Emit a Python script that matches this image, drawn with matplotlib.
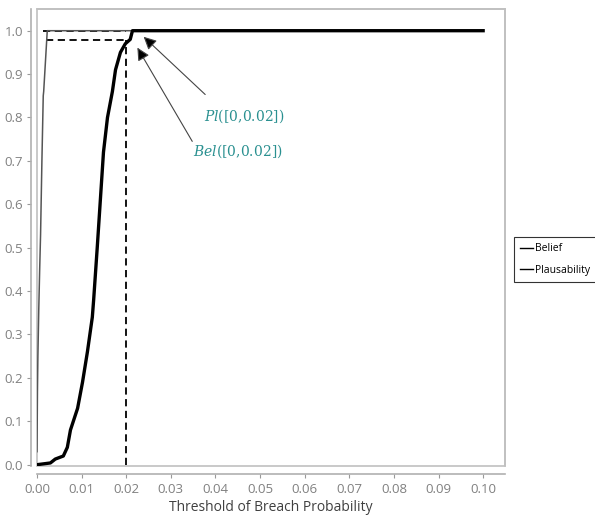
import matplotlib.pyplot as plt
import numpy as np

plt.rcParams['font.family'] = ['Open Sans', 'DejaVu Sans']
plt.rcParams['mathtext.fontset'] = 'dejavuserif'

# Belief curve (thick black)
bel_x = [0.0, 0.0030, 0.0041, 0.0059, 0.0068, 0.0075, 0.0091, 0.0102, 0.0113,
         0.0124, 0.0127, 0.0135, 0.0142, 0.0149, 0.0158, 0.0169, 0.0176, 0.0187,
         0.0198, 0.0209, 0.0214, 0.1]
bel_y = [0.0, 0.004, 0.013, 0.02, 0.04, 0.08, 0.13, 0.19, 0.26,
         0.34, 0.38, 0.50, 0.61, 0.72, 0.80, 0.86, 0.91, 0.95,
         0.97, 0.98, 1.0, 1.0]

# Plausibility curve (thin gray)
pl_x = [0.0, 0.0001, 0.0002, 0.0004, 0.0006, 0.0008, 0.0011, 0.0014, 0.0015, 0.0023, 0.1]
pl_y = [0.03, 0.17, 0.25, 0.36, 0.45, 0.53, 0.70, 0.85, 0.86, 1.0, 1.0]

# reference lines at threshold 0.02
thr = 0.02
bel_thr = 0.978
pl_thr = 1.0

xticks = np.arange(0, 0.101, 0.01)
yticks = np.arange(0, 1.01, 0.1)

fig = plt.figure(figsize=(5.95, 5.17), dpi=100)
ax = fig.add_axes([37 / 595, 51 / 517, 468 / 595, 457 / 517])

ax.plot(pl_x, pl_y, color='#555555', lw=1.1, label='Plausability', zorder=3)
ax.plot(bel_x, bel_y, color='black', lw=2.4, label='Belief', zorder=4)

# dashed guides
ax.plot([0.0014, thr], [pl_thr, pl_thr], color='black', lw=1.3, ls=(0, (4, 2.5)), zorder=2)
ax.plot([0.0020, thr], [bel_thr, bel_thr], color='black', lw=1.3, ls=(0, (4, 2.5)), zorder=2)
ax.plot([thr, thr], [0, bel_thr], color='black', lw=1.3, ls=(0, (4, 2.5)), zorder=2)

# annotations
arrow = dict(arrowstyle='-|>', fc='black', ec='#444444', lw=0.8, mutation_scale=19,
             shrinkA=0, shrinkB=0)
ax.annotate('', xy=(0.0239, 0.986), xytext=(0.0377, 0.853), arrowprops=arrow)
ax.annotate('', xy=(0.0225, 0.961), xytext=(0.0348, 0.745), arrowprops=arrow)
ax.text(0.0465, 0.802, r'$Pl$([0,0.02])', color='#2a9090', fontsize=10,
        family='DejaVu Serif', ha='center', va='center')
ax.text(0.0451, 0.722, r'$Bel$([0,0.02])', color='#2a9090', fontsize=10,
        family='DejaVu Serif', ha='center', va='center')

ax.set_xlim(0, 0.1049)
ax.set_ylim(-0.003, 1.05)
ax.set_xticks(xticks)
ax.set_yticks(yticks)
ax.set_xticklabels([f'{v:.2f}' for v in xticks])
ax.set_yticklabels([f'{v:.1f}' for v in yticks])
ax.tick_params(colors='#999999', labelcolor='#808080', labelsize=9.5, length=3, width=0.8, pad=3)

# frame box plus offset axis lines
ax.patch.set_edgecolor('#c0c0c0')
ax.patch.set_linewidth(1.2)
for s in ['top', 'right']:
    ax.spines[s].set_color('#c0c0c0')
    ax.spines[s].set_linewidth(1.2)
for s in ['left', 'bottom']:
    ax.spines[s].set_color('#b0b0b0')
    ax.spines[s].set_linewidth(1.2)
ax.spines['left'].set_position(('outward', 4))
ax.spines['bottom'].set_position(('outward', 6))

ax.set_xlabel('Threshold of Breach Probability', fontsize=10, color='#404040', labelpad=3)

handles, labels = ax.get_legend_handles_labels()
leg = fig.legend([handles[1], handles[0]], [labels[1], labels[0]],
                 loc='upper left', bbox_to_anchor=(514 / 595, 1 - 237 / 517),
                 fontsize=7.5, frameon=True, fancybox=False, edgecolor='black',
                 handlelength=1.2, handletextpad=0.2, borderpad=0.6, labelspacing=1.0,
                 borderaxespad=0)
for h in leg.legend_handles:
    h.set_color('black')
    h.set_linewidth(1.0)
leg.get_frame().set_linewidth(0.8)

fig.savefig('out.png', dpi=100)
